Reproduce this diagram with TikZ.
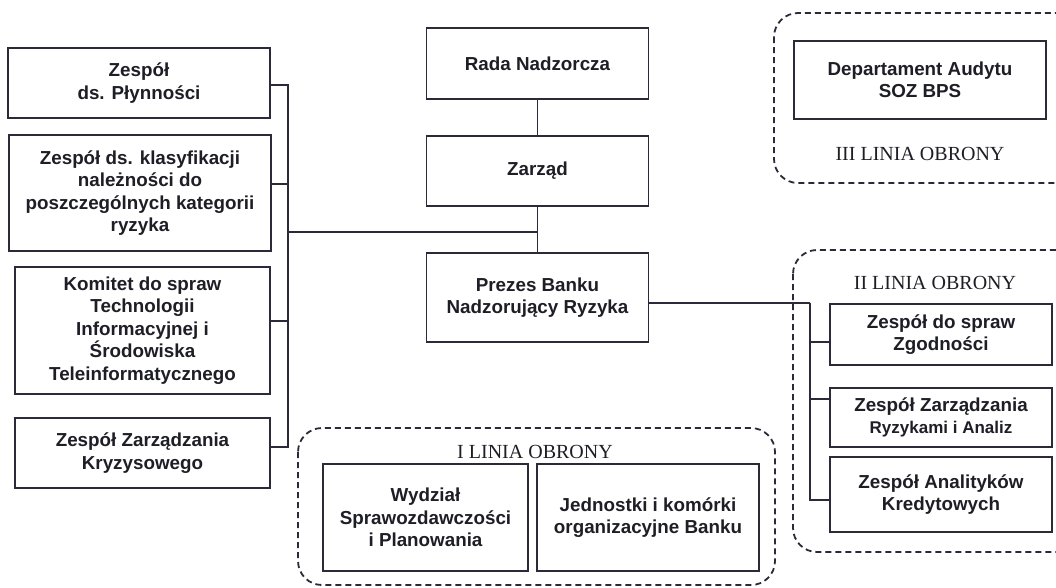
\documentclass[tikz,border=0pt]{standalone}
\usepackage{fontspec}
\setmainfont{Liberation Serif}
\setsansfont{Liberation Sans}
\definecolor{ink}{HTML}{2A2A38}
\definecolor{txt}{HTML}{1E1E26}
\tikzset{
  unit/.style={draw=ink, line width=1.8pt, fill=white, text=txt, align=center,
    font=\sffamily\bfseries\fontsize{18.8}{22.5}\selectfont, inner sep=2pt},
  link/.style={draw=ink, line width=1.8pt},
  group/.style={draw=ink, line width=1.8pt, dash pattern=on 6pt off 4pt, rounded corners=24pt},
  grouplabel/.style={text=txt, font=\rmfamily\fontsize{20}{22}\selectfont, inner sep=0pt}
}
\newcommand{\ubox}[6]{\node[unit, minimum width=#4pt, minimum height=#5pt] (#1) at (#2,#3) {#6};}
\begin{document}
\begin{tikzpicture}[x=1pt,y=1pt]
\useasboundingbox[fill=white] (0,0) rectangle (1056,-587);
% dashed groups
\begin{scope}
\clip (0,0) rectangle (1056,-587);
\draw[group] (774,-13) rectangle (1080,-183);
\draw[group] (793,-250) rectangle (1080,-552);
\draw[group] (298,-428) rectangle (775,-585);
\end{scope}
\node[grouplabel] (l3) at (920,-154) {III LINIA OBRONY};
\node[grouplabel] (l2) at (935,-283) {II LINIA OBRONY};
\node[grouplabel] (l1) at (535,-452) {I LINIA OBRONY};
% center
\ubox{rada}{537.5}{-63.5}{222}{71}{\raisebox{-6pt}{Rada Nadzorcza}}
\ubox{zarzad}{537.5}{-171}{222}{70}{Zarząd}
\ubox{prezes}{537.5}{-297.5}{222}{89}{Prezes Banku\\Nadzorujący Ryzyka}
% left
\ubox{b1}{139}{-83}{262}{70}{Zespół\\ds. Płynności}
\ubox{b2}{140}{-193}{262}{116}{Zespół ds. klasyfikacji\\należności do\\poszczególnych kategorii\\ryzyka}
\ubox{b3}{142.5}{-330.5}{255}{127}{Komitet do spraw\\Technologii\\Informacyjnej i\\Środowiska\\Teleinformatycznego}
\ubox{b4}{142.5}{-453}{255}{70}{Zespół Zarządzania\\Kryzysowego}
% right
\ubox{dep}{920}{-80}{252}{78}{Departament Audytu\\SOZ BPS}
\ubox{ra}{941}{-334.5}{222}{61}{Zespół do spraw\\Zgodności}
\ubox{rb}{941}{-417.5}{222}{59}{Zespół Zarządzania\\{\fontsize{17}{20}\selectfont Ryzykami i Analiz}}
\ubox{rc}{941}{-494.5}{222}{75}{Zespół Analityków\\Kredytowych}
% bottom
\ubox{wyd}{425.5}{-517.5}{205}{107}{Wydział\\Sprawozdawczości\\i Planowania}
\ubox{jed}{648}{-517.5}{222}{107}{Jednostki i komórki\\organizacyjne Banku}
% connectors
\coordinate (lsp) at (288,-232);
\coordinate (rsp) at (810,-303);
\draw[link] (rada) -- (zarzad);
\draw[link] (zarzad) -- (prezes);
\draw[link] (lsp) -- (lsp -| zarzad.south);
\draw[link] ([yshift=-2pt]b1.east) -| (lsp);
\draw[link] ([yshift=9pt]b2.east) -| (lsp);
\draw[link] ([yshift=9.5pt]b3.east) -| (lsp);
\draw[link] ([yshift=6pt]b4.east) -| (lsp);
\draw[link] ([yshift=-5.5pt]prezes.east) -- (rsp);
\draw[link] (rsp) |- ([yshift=-7.5pt]ra.west);
\draw[link] (rsp) |- ([yshift=18.5pt]rb.west);
\draw[link] (rsp) |- ([yshift=-5.5pt]rc.west);
\end{tikzpicture}
\end{document}
